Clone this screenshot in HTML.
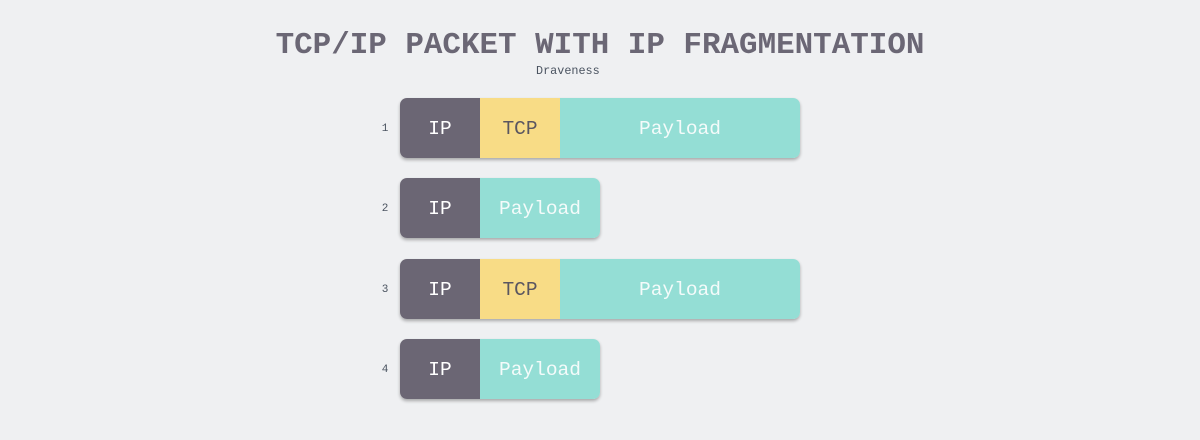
<!DOCTYPE html>
<html><head><style>
body{margin:0;width:1200px;height:440px;background:#eff0f2;position:relative;font-family:"Liberation Mono",monospace;overflow:hidden}
.t{position:absolute;left:0;width:1200px;text-align:center;top:28px;font-size:30.9px;font-weight:bold;color:#6b6775;letter-spacing:0}
.s{position:absolute;left:536px;top:64px;font-size:11.8px;color:#4a5360}
.row{position:absolute;left:400px;height:60px;border-radius:7px;overflow:hidden;display:flex;box-shadow:0 2px 3px rgba(0,0,0,0.3)}
.row div{height:60px;line-height:62px;text-align:center;font-size:19.5px}
.ip{width:80px;background:#6b6674;color:#fff}
.tcp{width:80px;background:#f8dc86;color:#5a5660}
.pl{background:#94ded5;color:#f4fbfa}
.n{position:absolute;left:378px;width:14px;text-align:center;font-size:11px;color:#4a5360}
</style></head><body>
<div class="t">TCP/IP PACKET WITH IP FRAGMENTATION</div>
<div class="s">Draveness</div>
<div class="n" style="top:123px">1</div>
<div class="n" style="top:203px">2</div>
<div class="n" style="top:284px">3</div>
<div class="n" style="top:364px">4</div>
<div class="row" style="top:98px"><div class="ip">IP</div><div class="tcp">TCP</div><div class="pl" style="width:240px">Payload</div></div>
<div class="row" style="top:178px"><div class="ip">IP</div><div class="pl" style="width:120px">Payload</div></div>
<div class="row" style="top:259px"><div class="ip">IP</div><div class="tcp">TCP</div><div class="pl" style="width:240px">Payload</div></div>
<div class="row" style="top:339px"><div class="ip">IP</div><div class="pl" style="width:120px">Payload</div></div>
</body></html>
